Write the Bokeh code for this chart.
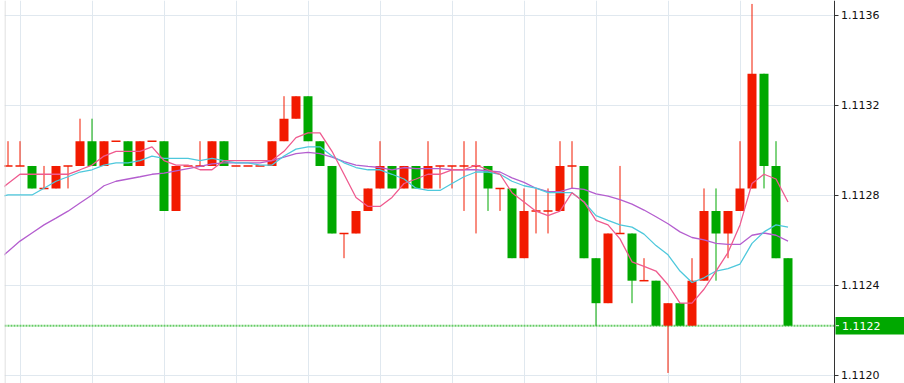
from bokeh.plotting import figure
from bokeh.models import (Range1d, FixedTicker, Grid, Span,
                          ColumnDataSource, PrintfTickFormatter)
from bokeh.core.properties import value
from bokeh.embed import file_html
from bokeh.resources import INLINE

# ---------------- data ----------------
open_ = [1.11293, 1.11293, 1.11293, 1.11283, 1.11283, 1.11293, 1.11293, 1.11304, 1.11293, 1.11304,
         1.11304, 1.11293, 1.11304, 1.11304, 1.11273, 1.11293, 1.11293, 1.11293, 1.11304, 1.11293,
         1.11293, 1.11293, 1.11293, 1.11304, 1.11314, 1.11324, 1.11304, 1.11293, 1.11263, 1.11263,
         1.11273, 1.11283, 1.11293, 1.11283, 1.11293, 1.11283, 1.11293, 1.11293, 1.11293, 1.11293,
         1.11293, 1.11283, 1.11283, 1.11252, 1.11273, 1.11273, 1.11273, 1.11293, 1.11293, 1.11252,
         1.11232, 1.11263, 1.11263, 1.11242, 1.11242, 1.11222, 1.11232, 1.11222, 1.11242, 1.11273,
         1.11263, 1.11273, 1.11283, 1.11334, 1.11293, 1.11252]
high = [1.11304, 1.11304, 1.11293, 1.11293, 1.11293, 1.11293, 1.11314, 1.11314, 1.11304, 1.11304,
        1.11304, 1.11304, 1.11304, 1.11304, 1.11293, 1.11293, 1.11304, 1.11304, 1.11304, 1.11293,
        1.11293, 1.11293, 1.11304, 1.11324, 1.11324, 1.11324, 1.11304, 1.11293, 1.11263, 1.11273,
        1.11283, 1.11304, 1.11293, 1.11293, 1.11293, 1.11304, 1.11293, 1.11293, 1.11304, 1.11304,
        1.11293, 1.11283, 1.11283, 1.11283, 1.11283, 1.11283, 1.11304, 1.11304, 1.11293, 1.11252,
        1.11263, 1.11293, 1.11263, 1.11252, 1.11242, 1.11232, 1.11232, 1.11252, 1.11283, 1.11283,
        1.11273, 1.11304, 1.11365, 1.11334, 1.11304, 1.11252]
low = [1.11293, 1.11293, 1.11283, 1.11283, 1.11283, 1.11283, 1.11293, 1.11293, 1.11293, 1.11304,
       1.11293, 1.11293, 1.11304, 1.11273, 1.11273, 1.11293, 1.11293, 1.11293, 1.11293, 1.11293,
       1.11293, 1.11293, 1.11293, 1.11304, 1.11314, 1.11304, 1.11293, 1.11263, 1.11252, 1.11263,
       1.11273, 1.11283, 1.11283, 1.11283, 1.11283, 1.11283, 1.11283, 1.11283, 1.11273, 1.11263,
       1.11273, 1.11273, 1.11252, 1.11252, 1.11263, 1.11263, 1.11273, 1.11283, 1.11252, 1.11222,
       1.11232, 1.11263, 1.11232, 1.11242, 1.11222, 1.11201, 1.11222, 1.11222, 1.11242, 1.11242,
       1.11252, 1.11273, 1.11283, 1.11283, 1.11252, 1.11222]
close = [1.11293, 1.11293, 1.11283, 1.11283, 1.11293, 1.11293, 1.11304, 1.11293, 1.11304, 1.11304,
         1.11293, 1.11304, 1.11304, 1.11273, 1.11293, 1.11293, 1.11293, 1.11304, 1.11293, 1.11293,
         1.11293, 1.11293, 1.11304, 1.11314, 1.11324, 1.11304, 1.11293, 1.11263, 1.11263, 1.11273,
         1.11283, 1.11293, 1.11283, 1.11293, 1.11283, 1.11293, 1.11293, 1.11293, 1.11293, 1.11293,
         1.11283, 1.11283, 1.11252, 1.11273, 1.11273, 1.11273, 1.11293, 1.11293, 1.11252, 1.11232,
         1.11263, 1.11263, 1.11242, 1.11242, 1.11222, 1.11232, 1.11222, 1.11242, 1.11273, 1.11263,
         1.11273, 1.11283, 1.11334, 1.11293, 1.11252, 1.11222]

# moving averages (fast / medium / slow), first point is one bar before the first candle
ma_fast = [1.112811, 1.112852, 1.112893, 1.112893, 1.112893, 1.112893, 1.112893, 1.112913, 1.112934, 1.112974,
           1.112995, 1.112995, 1.112995, 1.113015, 1.112954, 1.112934, 1.112934, 1.112913, 1.112913, 1.112954,
           1.112954, 1.112954, 1.112954, 1.112954, 1.112995, 1.113056, 1.113077, 1.113077, 1.112995, 1.112893,
           1.112790, 1.112750, 1.112750, 1.112790, 1.112852, 1.112872, 1.112893, 1.112893, 1.112913, 1.112913,
           1.112934, 1.112913, 1.112893, 1.112811, 1.112770, 1.112729, 1.112709, 1.112729, 1.112811, 1.112770,
           1.112688, 1.112668, 1.112606, 1.112504, 1.112484, 1.112463, 1.112402, 1.112320, 1.112320, 1.112382,
           1.112463, 1.112545, 1.112668, 1.112852, 1.112893, 1.112872, 1.112770]
ma_mid = [1.112790, 1.112801, 1.112801, 1.112801, 1.112831, 1.112862, 1.112882, 1.112903, 1.112913, 1.112934,
          1.112944, 1.112944, 1.112954, 1.112974, 1.112964, 1.112964, 1.112964, 1.112954, 1.112964, 1.112954,
          1.112944, 1.112944, 1.112934, 1.112934, 1.112974, 1.113005, 1.113015, 1.113015, 1.112974, 1.112944,
          1.112923, 1.112913, 1.112913, 1.112893, 1.112872, 1.112831, 1.112821, 1.112821, 1.112852, 1.112882,
          1.112903, 1.112903, 1.112893, 1.112862, 1.112842, 1.112831, 1.112811, 1.112811, 1.112811, 1.112770,
          1.112709, 1.112688, 1.112668, 1.112658, 1.112627, 1.112576, 1.112535, 1.112463, 1.112412, 1.112433,
          1.112463, 1.112474, 1.112494, 1.112586, 1.112637, 1.112668, 1.112658]
ma_slow = [1.112504, 1.112550, 1.112596, 1.112632, 1.112668, 1.112698, 1.112729, 1.112765, 1.112801, 1.112842,
           1.112862, 1.112872, 1.112882, 1.112893, 1.112898, 1.112908, 1.112918, 1.112928, 1.112939, 1.112944,
           1.112944, 1.112944, 1.112944, 1.112954, 1.112969, 1.112985, 1.112990, 1.112985, 1.112969, 1.112949,
           1.112934, 1.112928, 1.112923, 1.112913, 1.112923, 1.112918, 1.112918, 1.112918, 1.112913, 1.112913,
           1.112913, 1.112908, 1.112903, 1.112877, 1.112857, 1.112831, 1.112816, 1.112816, 1.112831, 1.112826,
           1.112806, 1.112796, 1.112780, 1.112760, 1.112734, 1.112704, 1.112673, 1.112637, 1.112612, 1.112601,
           1.112586, 1.112581, 1.112581, 1.112622, 1.112632, 1.112622, 1.112596]

y_ticks = [1.1120, 1.1124, 1.1128, 1.1132, 1.1136]
x_grid_ticks = [1, 7, 13, 19, 25, 31, 37, 43, 49, 55, 61]
last_label = "1.1122"

# ---------------- style ----------------
UP = "#f21a00"
DOWN = "#00a800"
FONT = "DejaVu Sans"
GRID = "#e0e8ef"
X0, X1 = -0.2917, 74.7083      # visible bar range (frame spans the whole width)
Y0, Y1 = 1.1119631, 1.1136653  # visible price range
AXIS_X = 68.8333               # bar coordinate of the price axis line
TAG_H = 0.0000387              # half height of the price tag (price units)

idx = list(range(len(close)))
ma_x = list(range(-1, len(close)))
colors = [DOWN if c < o else UP for o, c in zip(open_, close)]

wick_src = ColumnDataSource(dict(x=idx, high=high, low=low, color=colors))
bi = [i for i in idx if open_[i] != close[i]]
body_src = ColumnDataSource(dict(
    x=bi,
    top=[max(open_[i], close[i]) for i in bi],
    bottom=[min(open_[i], close[i]) for i in bi],
    color=[colors[i] for i in bi]))
di = [i for i in idx if open_[i] == close[i]]
doji_src = ColumnDataSource(dict(x=di, y=[close[i] for i in di]))

p = figure(width=904, height=383,
           x_range=Range1d(X0, X1),
           y_range=Range1d(Y0, Y1),
           y_axis_location="right", x_axis_location=None,
           toolbar_location=None, output_backend="svg",
           min_border_left=4, min_border_right=0,
           min_border_top=0, min_border_bottom=0)
p.outline_line_color = None
p.background_fill_color = "white"
p.border_fill_color = "white"

# grids
p.center = [r for r in p.center if not (isinstance(r, Grid) and r.dimension == 0)]
p.add_layout(Grid(dimension=0, ticker=FixedTicker(ticks=x_grid_ticks),
                  grid_line_color=GRID, grid_line_width=1), "center")
p.ygrid.grid_line_color = GRID
p.ygrid.grid_line_width = 1

# right price axis, drawn at a fixed bar position inside the canvas
ax = p.yaxis[0]
ax.fixed_location = AXIS_X
ax.ticker = FixedTicker(ticks=y_ticks)
ax.formatter = PrintfTickFormatter(format="%.4f")
ax.major_label_text_font = FONT
ax.major_label_text_font_size = "11px"
ax.major_label_text_color = "#111111"
ax.axis_line_color = "#333333"
ax.major_tick_line_color = "#333333"
ax.major_tick_out = 4
ax.major_tick_in = 0
ax.minor_tick_out = 0
ax.minor_tick_in = 0
ax.major_label_standoff = 3

# current price dotted line (under the candles / scale area)
p.add_layout(Span(location=close[-1], dimension="width", line_color="#66cc66",
                  line_width=2, line_dash="2 1", level="underlay"))

# left border
p.add_layout(Span(location=-0.25, dimension="height", line_color="#d6d6d6", line_width=1))

# white scale area right of the axis line
p.quad(left=[AXIS_X], right=[X1], bottom=[Y0], top=[Y1], fill_color="white",
       line_color=None)

# candles
p.segment(x0="x", y0="high", x1="x", y1="low", line_color="color", line_width=1, source=wick_src)
p.vbar(x="x", width=0.75, top="top", bottom="bottom", fill_color="color",
       line_color=None, source=body_src)
p.dash(x="x", y="y", size=9, line_color=UP, line_width=1.5, source=doji_src)

# moving averages
p.line(ma_x, ma_slow, line_color="#b45ecf", line_width=1.3)
p.line(ma_x, ma_mid, line_color="#4ec8dc", line_width=1.3)
p.line(ma_x, ma_fast, line_color="#ef5b8f", line_width=1.3)

# current price tag on the scale
p.quad(left=[AXIS_X + 0.125], right=[X1], bottom=[close[-1] - TAG_H], top=[close[-1] + TAG_H],
       fill_color=DOWN, line_color=None)
p.segment(x0=[AXIS_X + 0.167], y0=[close[-1]], x1=[AXIS_X + 0.42], y1=[close[-1]],
          line_color="white", line_width=1)
p.text(x=[AXIS_X + 0.667], y=[close[-1]], text=[last_label], text_color="white",
       text_font=value(FONT), text_font_size="11px", text_align="left",
       text_baseline="middle")

open("out.html", "w").write(file_html(p, INLINE))
